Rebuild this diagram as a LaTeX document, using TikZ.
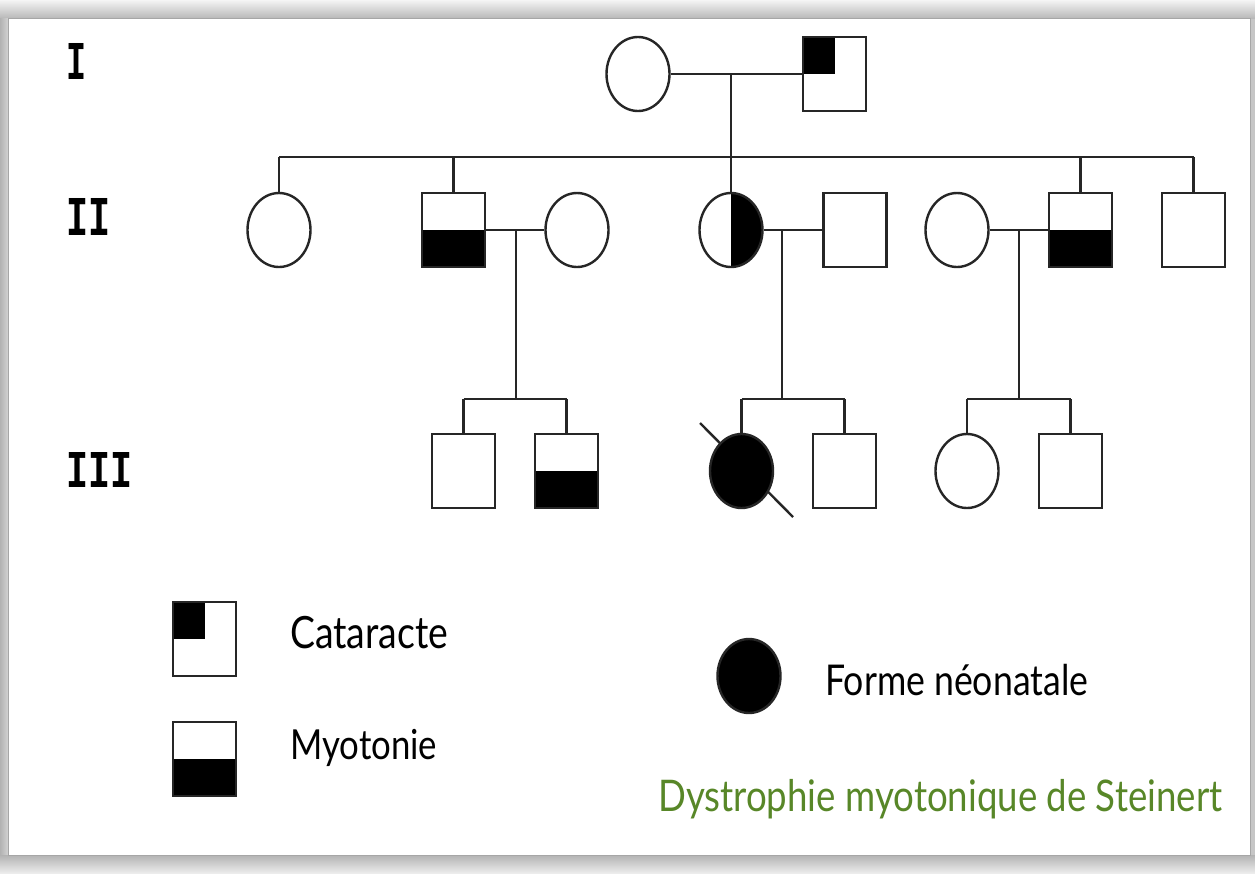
\documentclass[tikz,border=0pt]{standalone}
\usepackage{fontspec}
\setmainfont{Lato}
\setmonofont{Liberation Mono}
\usepackage{graphicx}
\usetikzlibrary{shapes.geometric,calc}
\definecolor{titlegreen}{RGB}{88,135,40}
\newcommand{\fitw}[2]{\scalebox{1}[1.19]{\resizebox{#1}{!}{#2}}}
\newcommand{\romn}[3]{\resizebox{#1}{#2}{\ttfamily\bfseries #3}}
\tikzset{
 ln/.style={line width=2.4pt, black!85},
 fem/.style={ellipse, draw=black!85, line width=2.4pt, minimum width=63pt, minimum height=74pt, inner sep=0pt, fill=white},
 mal/.style={rectangle, draw=black!85, line width=2.4pt, minimum width=63pt, minimum height=74pt, inner sep=0pt, fill=white},
 myo/.style={path picture={\fill[black] (path picture bounding box.west) rectangle (path picture bounding box.south east);}},
 cat/.style={path picture={\fill[black] (path picture bounding box.north west) rectangle (path picture bounding box.center);}},
 halfr/.style={path picture={\fill[black] (path picture bounding box.north) rectangle (path picture bounding box.south east);}},
 aff/.style={fill=black},
 lbl/.style={anchor=west, inner sep=0pt},
 gen/.style={anchor=north west, inner sep=0pt},
}
\begin{document}
\begin{tikzpicture}[x=1pt,y=-1pt]
% background and frame
\fill[gray!45] (0,0) rectangle (1255,873);
\shade[top color=gray!8, bottom color=gray!55] (0,0) rectangle (1255,18);
\shade[left color=gray!60, right color=gray!35] (0,18) rectangle (8,873);
\shade[top color=gray!60, bottom color=gray!15] (0,855) rectangle (1255,873);
\fill[white] (8,18) rectangle (1250,855);
\draw[gray!70, line width=1pt] (8,18) rectangle (1250,855);
\useasboundingbox (0,0) rectangle (1255,873);

% generation labels
\node[gen] (gI) at (66,43) {\romn{20pt}{36pt}{I}};
\node[gen] (gII) at (66,198) {\romn{44pt}{37pt}{II}};
\node[gen] (gIII) at (66,452) {\romn{66pt}{35pt}{III}};

% deceased mark (drawn behind the symbol)
\coordinate (x1) at (700,423);
\coordinate (x2) at (793,517);
\draw[ln] (x1) -- (x2);

% generation I
\node[fem] (I1) at (638,74) {};
\node[mal, cat] (I2) at (834.5,74) {};
% generation II
\node[fem] (II1) at (279,230) {};
\node[mal, myo] (II2) at (453.5,230) {};
\node[fem] (II3) at (577,230) {};
\node[fem, halfr] (II4) at (731,230) {};
\node[mal] (II5) at (855,230) {};
\node[fem] (II6) at (957,230) {};
\node[mal, myo] (II7) at (1080.5,230) {};
\node[mal] (II8) at (1193.5,230) {};
% generation III
\node[mal] (III1) at (463.5,471) {};
\node[mal, myo] (III2) at (566.5,471) {};
\node[fem, aff] (III3) at (741.5,471) {};
\node[mal] (III4) at (844.5,471) {};
\node[fem] (III5) at (967,471) {};
\node[mal] (III6) at (1070.5,471) {};

% coordinates
\coordinate (d1) at (731,74);
\coordinate (s1) at (731,157);
\coordinate (d2) at (516,230);
\coordinate (s2) at (516,399);
\coordinate (d3) at (782,230);
\coordinate (s3) at (782,399);
\coordinate (d4) at (1019,230);
\coordinate (s4) at (1019,399);

% connectors gen I
\draw[ln] (I1) -- (I2);
\draw[ln] (d1) -- (s1);
\draw[ln] (II1.north |- s1) -- (II8.north |- s1);
\foreach \n in {II1,II2,II4,II7,II8} \draw[ln] (\n.north |- s1) -- (\n.north);
% family II2 x II3
\draw[ln] (II2) -- (II3);
\draw[ln] (d2) -- (s2);
\draw[ln] (III1.north |- s2) -- (III2.north |- s2);
\foreach \n in {III1,III2} \draw[ln] (\n.north |- s2) -- (\n.north);
% family II4 x II5
\draw[ln] (II4) -- (II5);
\draw[ln] (d3) -- (s3);
\draw[ln] (III3.north |- s3) -- (III4.north |- s3);
\foreach \n in {III3,III4} \draw[ln] (\n.north |- s3) -- (\n.north);
% family II6 x II7
\draw[ln] (II6) -- (II7);
\draw[ln] (d4) -- (s4);
\draw[ln] (III5.north |- s4) -- (III6.north |- s4);
\foreach \n in {III5,III6} \draw[ln] (\n.north |- s4) -- (\n.north);

% legend
\node[mal, cat] (L1) at (204.5,639) {};
\node[mal, myo] (L2) at (204.5,759) {};
\node[fem, aff] (L3) at (749,676) {};
\node[lbl] (t1) at (290,633) {\fitw{158pt}{Cataracte}};
\node[lbl] (t2) at (290,748) {\fitw{147pt}{Myotonie}};
\node[lbl] (t3) at (825,680) {\fitw{263pt}{Forme néonatale}};
\node[lbl, text=titlegreen] (t4) at (658,799) {\fitw{564pt}{Dystrophie myotonique de Steinert}};
\end{tikzpicture}
\end{document}
